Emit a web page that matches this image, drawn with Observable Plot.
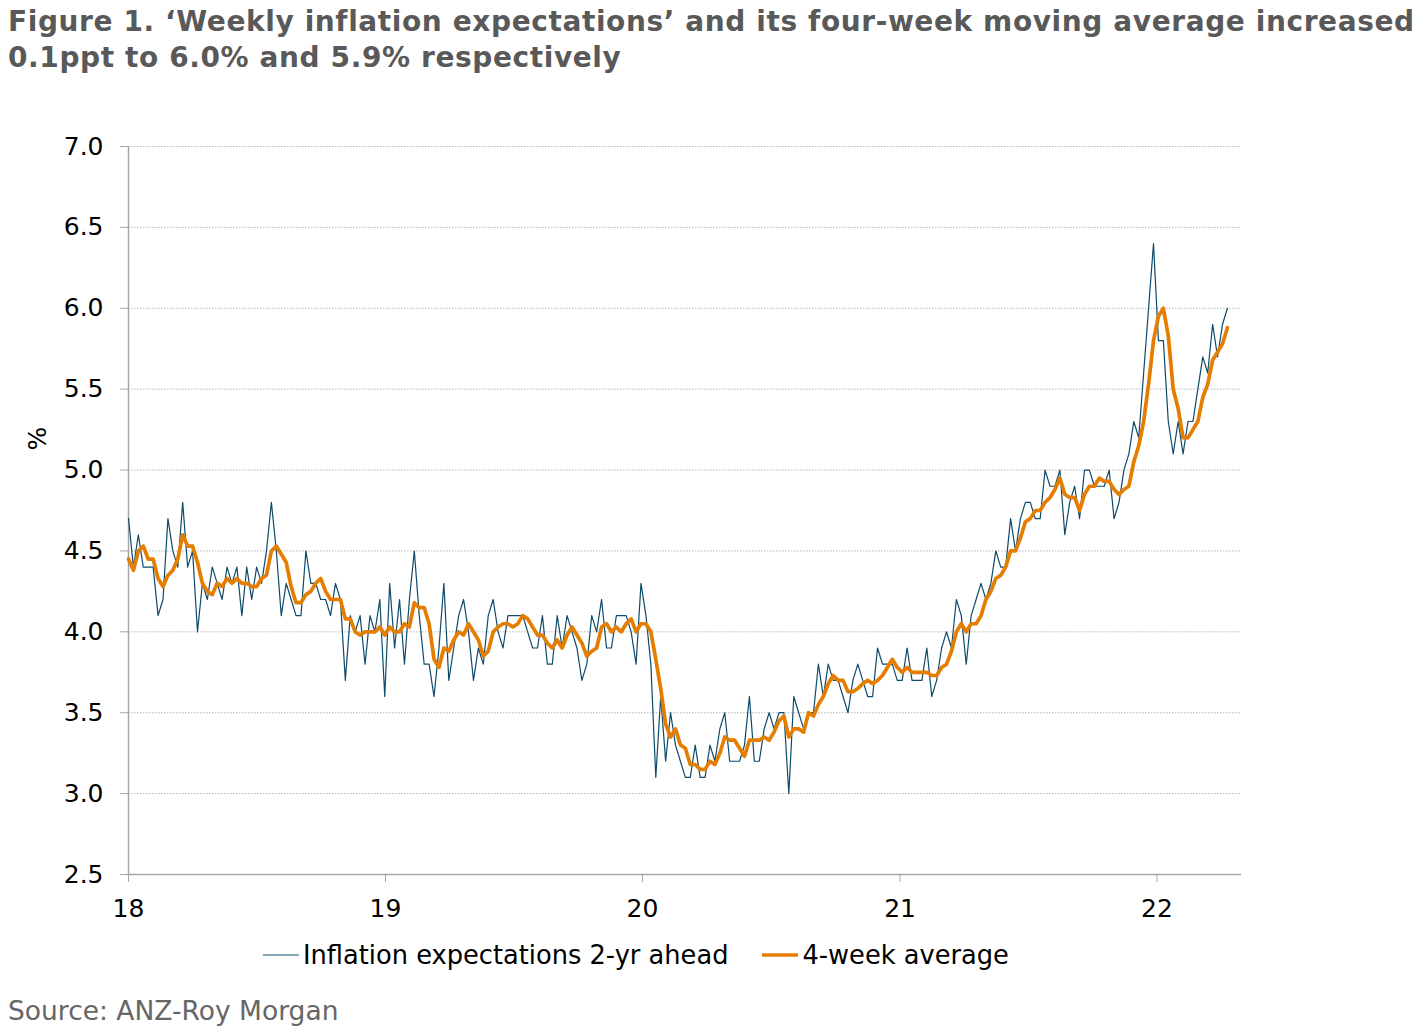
<!DOCTYPE html>
<html><head><meta charset="utf-8">
<script src="https://cdn.jsdelivr.net/npm/d3@7"></script>
<script src="https://cdn.jsdelivr.net/npm/@observablehq/plot@0.6"></script>
<style>
body{margin:0;background:#fff;font-family:"DejaVu Sans",Verdana,sans-serif;width:1427px;overflow:hidden;}
#title{box-sizing:border-box;padding:4px 0 0 8px;height:85px;font-weight:bold;font-size:28px;letter-spacing:0.6px;line-height:36px;color:#595959;white-space:nowrap;}
#chart svg{display:block;}
#legend{height:52px;display:flex;align-items:center;padding-left:263px;font-size:25.7px;color:#000;}
#legend .item{display:flex;align-items:center;margin-right:34px;}
#legend svg{display:block;margin-right:4px;}
#source{padding-left:8px;font-size:26.5px;color:#666;line-height:60px;}
</style></head><body>
<div id="title">Figure 1. ‘Weekly inflation expectations’ and its four-week moving average increased<br>0.1ppt to 6.0% and 5.9% respectively</div>
<div id="chart"></div>
<div id="legend"></div>
<div id="source">Source: ANZ-Roy Morgan</div>
<script>
// Weekly series, starting first week of 2018
const startDate = "2018-01-01";
const weekly = [4.7,4.4,4.6,4.4,4.4,4.4,4.1,4.2,4.7,4.5,
4.4,4.8,4.4,4.5,4.0,4.3,4.2,4.4,4.3,4.2,
4.4,4.3,4.4,4.1,4.4,4.2,4.4,4.3,4.5,4.8,
4.5,4.1,4.3,4.2,4.1,4.1,4.5,4.3,4.3,4.2,
4.2,4.1,4.3,4.2,3.7,4.1,4.0,4.1,3.8,4.1,
4.0,4.2,3.6,4.3,3.9,4.2,3.8,4.2,4.5,4.1,
3.8,3.8,3.6,3.9,4.3,3.7,3.9,4.1,4.2,4.0,
3.7,3.9,3.8,4.1,4.2,4.0,3.9,4.1,4.1,4.1,
4.1,4.0,3.9,3.9,4.1,3.8,3.8,4.1,3.9,4.1,
4.0,3.9,3.7,3.8,4.1,4.0,4.2,3.9,3.9,4.1,
4.1,4.1,4.0,3.8,4.3,4.1,3.8,3.1,3.6,3.2,
3.5,3.3,3.2,3.1,3.1,3.3,3.1,3.1,3.3,3.2,
3.4,3.5,3.2,3.2,3.2,3.3,3.6,3.2,3.2,3.4,
3.5,3.4,3.5,3.5,3.0,3.6,3.5,3.4,3.5,3.5,
3.8,3.6,3.8,3.7,3.7,3.6,3.5,3.7,3.8,3.7,
3.6,3.6,3.9,3.8,3.8,3.8,3.7,3.7,3.9,3.7,
3.7,3.7,3.9,3.6,3.7,3.9,4.0,3.9,4.2,4.1,
3.8,4.1,4.2,4.3,4.2,4.3,4.5,4.4,4.4,4.7,
4.5,4.7,4.8,4.8,4.7,4.7,5.0,4.9,4.9,5.0,
4.6,4.8,4.9,4.7,5.0,5.0,4.9,4.9,4.9,5.0,
4.7,4.8,5.0,5.1,5.3,5.2,5.6,6.0,6.4,5.8,
5.8,5.3,5.1,5.3,5.1,5.3,5.3,5.5,5.7,5.6,
5.9,5.7,5.9,6.0];
const avg4 = [4.45,4.38,4.5,4.53,4.45,4.45,4.33,4.28,4.35,4.38,
4.45,4.6,4.53,4.53,4.43,4.3,4.25,4.23,4.3,4.28,
4.33,4.3,4.33,4.3,4.3,4.28,4.28,4.33,4.35,4.5,
4.53,4.48,4.43,4.28,4.18,4.18,4.23,4.25,4.3,4.33,
4.25,4.2,4.2,4.2,4.08,4.08,4.0,3.98,4.0,4.0,
4.0,4.03,3.98,4.03,4.0,4.0,4.05,4.03,4.18,4.15,
4.15,4.05,3.83,3.78,3.9,3.88,3.95,4.0,3.98,4.05,
4.0,3.95,3.85,3.88,4.0,4.03,4.05,4.05,4.03,4.05,
4.1,4.08,4.03,3.98,3.98,3.93,3.9,3.95,3.9,3.98,
4.03,3.98,3.93,3.85,3.88,3.9,4.03,4.05,4.0,4.03,
4.0,4.05,4.08,4.0,4.05,4.05,4.0,3.83,3.65,3.43,
3.35,3.4,3.3,3.28,3.18,3.18,3.15,3.15,3.2,3.18,
3.25,3.35,3.33,3.33,3.28,3.23,3.33,3.33,3.33,3.35,
3.33,3.38,3.45,3.48,3.35,3.4,3.4,3.38,3.5,3.48,
3.55,3.6,3.68,3.73,3.7,3.7,3.63,3.63,3.65,3.68,
3.7,3.68,3.7,3.73,3.78,3.83,3.78,3.75,3.78,3.75,
3.75,3.75,3.75,3.73,3.73,3.78,3.8,3.88,4.0,4.05,
4.0,4.05,4.05,4.1,4.2,4.25,4.33,4.35,4.4,4.5,
4.5,4.58,4.68,4.7,4.75,4.75,4.8,4.83,4.88,4.95,
4.85,4.83,4.83,4.75,4.85,4.9,4.9,4.95,4.93,4.93,
4.88,4.85,4.88,4.9,5.05,5.15,5.3,5.53,5.8,5.95,
6.0,5.83,5.5,5.38,5.2,5.2,5.25,5.3,5.45,5.53,
5.68,5.73,5.78,5.88];
const yTicks = [2.5,3.0,3.5,4.0,4.5,5.0,5.5,6.0,6.5,7.0];
const gridValues = [3.0,3.5,4.0,4.5,5.0,5.5,6.0,6.5,7.0];
const yearTicks = ["2018-01-01","2019-01-01","2020-01-01","2021-01-01","2022-01-01"];
const xDomain = ["2018-01-01","2022-05-01"];
const seriesNames = ["Inflation expectations 2-yr ahead","4-week average"];
const seriesColors = ["#0d4a6b","#e47d00"];
const yLabel = "%";

const start = new Date(startDate + "T00:00:00Z");
const rows = weekly.map((v, i) => ({date: d3.utcDay.offset(start, 7 * i), weekly: v, avg: avg4[i]}));
const xd = xDomain.map(s => new Date(s + "T00:00:00Z"));
const xt = yearTicks.map(s => new Date(s + "T00:00:00Z"));

const chart = Plot.plot({
  width: 1427,
  height: 844,
  marginTop: 61,
  marginBottom: 55,
  marginLeft: 128,
  marginRight: 186,
  style: {fontFamily: "DejaVu Sans, Verdana, sans-serif", background: "#fff", color: "#000"},
  x: {type: "utc", domain: xd},
  y: {domain: [2.5, 7.0]},
  marks: [
    Plot.ruleY(gridValues, {stroke: "#b8b8b8", strokeWidth: 1, strokeDasharray: "1.5,1.5"}),
    Plot.ruleX([xd[0]], {stroke: "#a6a6a6", strokeWidth: 1.5}),
    Plot.ruleY([2.5], {stroke: "#a6a6a6", strokeWidth: 1.5}),
    Plot.axisY({ticks: yTicks, tickFormat: d => d.toFixed(1), tickSize: 8, tickPadding: 17, fontSize: 25,
      stroke: "#a6a6a6", fill: "#000", label: null}),
    Plot.text([yLabel], {text: d => d, frameAnchor: "left", dx: -91, dy: -60, rotate: -90, fontSize: 25, fill: "#000"}),
    Plot.axisX({ticks: xt, tickFormat: d3.utcFormat("%y"), tickSize: 8, tickPadding: 17, fontSize: 25,
      stroke: "#a6a6a6", fill: "#000", label: null}),
    Plot.lineY(rows, {x: "date", y: "weekly", stroke: seriesColors[0], strokeWidth: 1.2}),
    Plot.lineY(rows, {x: "date", y: "avg", stroke: seriesColors[1], strokeWidth: 3.7, strokeLinejoin: "round"})
  ]
});
document.getElementById("chart").appendChild(chart);

const legend = document.getElementById("legend");
seriesNames.forEach((name, i) => {
  const item = document.createElement("div");
  item.className = "item";
  const sw = i === 0 ? 1.2 : 3.7;
  item.innerHTML = `<svg width="36" height="10"><line x1="0" x2="36" y1="5" y2="5" stroke="${seriesColors[i]}" stroke-width="${sw}"/></svg><span>${name}</span>`;
  legend.appendChild(item);
});
</script>
</body></html>
